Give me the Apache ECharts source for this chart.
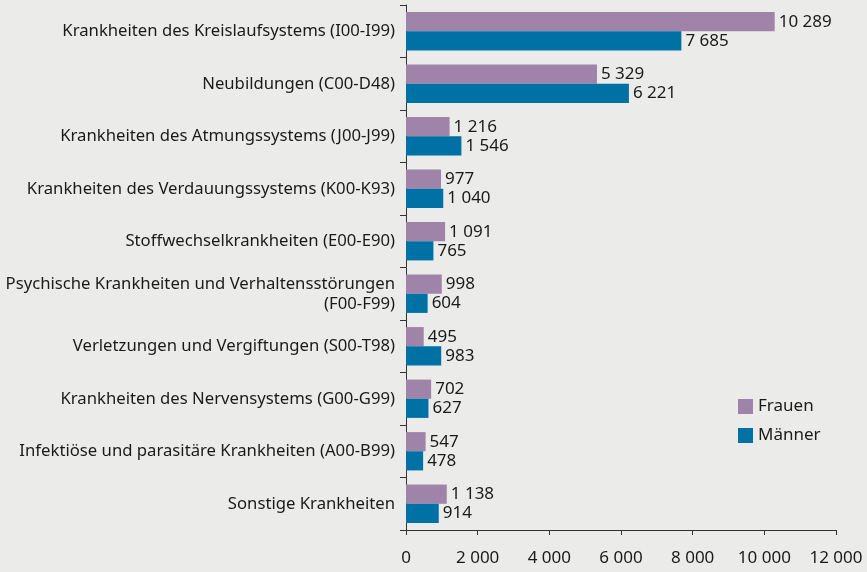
<!DOCTYPE html>
<html>
<head>
<meta charset="utf-8">
<script src="https://cdn.jsdelivr.net/npm/echarts@6/dist/echarts.min.js"></script>
<style>
  html, body { margin: 0; padding: 0; background: #ebecea; }
  #chart { width: 867px; height: 572px; }
</style>
</head>
<body>
<div id="chart"></div>
<script>
  // Kategorien (oben nach unten)
  var categories = [
    'Krankheiten des Kreislaufsystems (I00-I99)',
    'Neubildungen (C00-D48)',
    'Krankheiten des Atmungssystems (J00-J99)',
    'Krankheiten des Verdauungssystems (K00-K93)',
    'Stoffwechselkrankheiten (E00-E90)',
    'Psychische Krankheiten und Verhaltensstörungen\n(F00-F99)',
    'Verletzungen und Vergiftungen (S00-T98)',
    'Krankheiten des Nervensystems (G00-G99)',
    'Infektiöse und parasitäre Krankheiten (A00-B99)',
    'Sonstige Krankheiten'
  ]
  var frauen = [10289, 5329, 1216, 977, 1091, 998, 495, 702, 547, 1138]
  var maenner = [7685, 6221, 1546, 1040, 765, 604, 983, 627, 478, 914]

  function fmt(v) {
    return String(v).replace(/\B(?=(\d{3})+(?!\d))/g, '\u00a0')
  }

  var myChart = echarts.init(document.getElementById('chart'))
  var font = '"Noto Sans", sans-serif'
  myChart.setOption({
    backgroundColor: '#ebecea',
    textStyle: { fontFamily: font },
    animation: false,
    grid: { left: 406, right: 31, top: 5, bottom: 42, containLabel: false, outerBoundsMode: 'none' },
    legend: {
      orient: 'vertical',
      left: 733,
      top: 393,
      itemWidth: 15,
      itemHeight: 15,
      itemGap: 12,
      icon: 'rect',
      textStyle: { fontSize: 17, color: '#1a1a1a', fontFamily: font },
      data: ['Frauen', 'Männer']
    },
    xAxis: {
      type: 'value',
      min: 0,
      max: 12000,
      interval: 2000,
      axisLine: { show: true, lineStyle: { color: '#333', width: 1 } },
      axisTick: { show: true, length: 5, lineStyle: { color: '#333' } },
      splitLine: { show: false },
      axisLabel: {
        formatter: fmt, fontSize: 17, color: '#1a1a1a', margin: 20, fontFamily: font
      }
    },
    yAxis: {
      type: 'category',
      inverse: true,
      data: categories,
      axisLine: { show: true, lineStyle: { color: '#333', width: 1 } },
      axisTick: { show: true, length: 6, lineStyle: { color: '#333' } },
      axisLabel: {
        fontSize: 16.7, color: '#1a1a1a', margin: 11, align: 'right', lineHeight: 20, fontFamily: font
      }
    },
    series: [
      {
        name: 'Frauen',
        type: 'bar',
        data: frauen,
        barGap: '0%',
        barCategoryGap: '27%',
        itemStyle: { color: '#a083a8' },
        label: {
          show: true, position: 'right', distance: 4, formatter: function (p) { return fmt(p.value) },
          fontSize: 17, color: '#1a1a1a', fontFamily: font
        }
      },
      {
        name: 'Männer',
        type: 'bar',
        data: maenner,
        itemStyle: { color: '#0071a4' },
        label: {
          show: true, position: 'right', distance: 4, formatter: function (p) { return fmt(p.value) },
          fontSize: 17, color: '#1a1a1a', fontFamily: font
        }
      }
    ]
  })
</script>
</body>
</html>
